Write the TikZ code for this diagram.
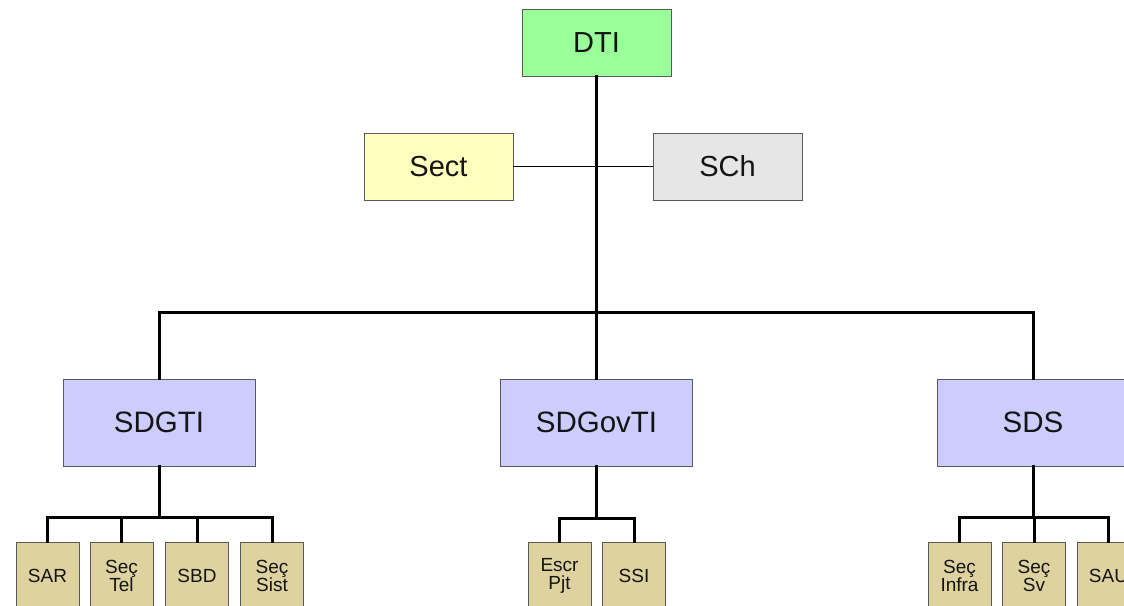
\documentclass[tikz,border=0pt]{standalone}
\usepackage{fontspec}
\setmainfont{Liberation Sans}
\begin{document}
\begin{tikzpicture}[x=1pt,y=-1pt,
  box/.style={draw=black!65, line width=0.9pt, inner sep=0pt, align=center, text=black!92},
  topbox/.style={box, minimum width=149pt, minimum height=67pt, font=\fontsize{29}{31}\selectfont},
  midbox/.style={box, fill=blueF, minimum width=192pt, minimum height=87pt, font=\fontsize{29.5}{31}\selectfont},
  leaf/.style={box, fill=tanF, minimum width=63pt, minimum height=68pt, font=\fontsize{19}{18.5}\selectfont},
  wire/.style={line width=3pt, line cap=rect},
  thinwire/.style={line width=1.6pt}]
\definecolor{greenF}{HTML}{99FF99}
\definecolor{yellowF}{HTML}{FFFFC0}
\definecolor{grayF}{HTML}{E6E6E6}
\definecolor{blueF}{HTML}{CCCCFF}
\definecolor{tanF}{HTML}{DDD2A0}
\useasboundingbox (0,0) rectangle (1124,605);
\clip (0,0) rectangle (1124,605);

% top level and staff
\node[topbox, fill=greenF] (DTI) at (596.5,42.5) {DTI};
\node[topbox, fill=yellowF] (Sect) at (438.5,166.5) {Sect};
\node[topbox, fill=grayF] (SCh) at (727.5,166.5) {SCh};

% sub-directorates
\node[midbox] (SDGTI) at (159,422.5) {SDGTI};
\node[midbox] (SDGovTI) at (596.5,422.5) {SDGovTI};
\node[midbox] (SDS) at (1033,422.5) {SDS};

% sections
\node[leaf] (SAR) at (47.5,576) {SAR};
\node[leaf] (SecTel) at (121.5,576) {Seç\\Tel};
\node[leaf] (SBD) at (197,576) {SBD};
\node[leaf] (SecSist) at (272,576) {Seç\\Sist};
\node[leaf] (EscrPjt) at (559.5,576) {Escr\\Pjt};
\node[leaf] (SSI) at (634,576) {SSI};
\node[leaf] (SecInfra) at (959.5,576) {Seç\\Infra};
\node[leaf] (SecSv) at (1034,576) {Seç\\Sv};
\node[leaf] (SAU) at (1108.5,576) {SAU};

% junction points
\coordinate (hub) at (596.5,312);
\coordinate (j1) at (159,517);
\coordinate (j2) at (596.5,518);
\coordinate (j3) at (1033,517);

% connectors
\draw[thinwire] (Sect.east) -- (SCh.west);
\draw[wire] (DTI.south) -- (hub);
\draw[wire] (SDGTI.north) |- (hub) -| (SDS.north);
\draw[wire] (hub) -- (SDGovTI.north);

\draw[wire] (SDGTI.south) -- (j1);
\draw[wire] (SAR.north) |- (j1) -| (SecSist.north);
\draw[wire] (SecTel.north) -- (SecTel.north |- j1);
\draw[wire] (SBD.north) -- (SBD.north |- j1);

\draw[wire] (SDGovTI.south) -- (j2);
\draw[wire] (EscrPjt.north) |- (j2) -| (SSI.north);

\draw[wire] (SDS.south) -- (j3);
\draw[wire] (SecInfra.north) |- (j3) -| (SAU.north);
\draw[wire] (SecSv.north) -- (SecSv.north |- j3);
\end{tikzpicture}
\end{document}
